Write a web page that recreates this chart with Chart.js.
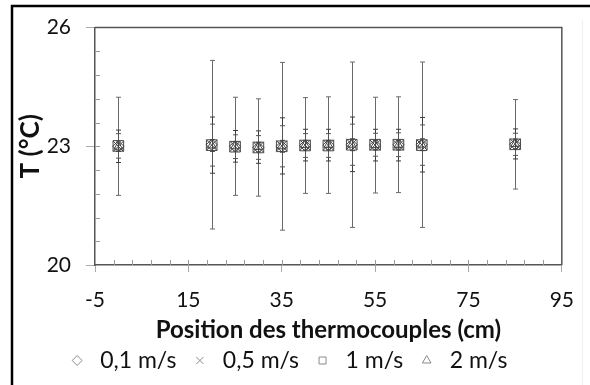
<!DOCTYPE html>
<html>
<head>
<meta charset="utf-8">
<script src="https://cdn.jsdelivr.net/npm/chart.js@4.4.1/dist/chart.umd.min.js"></script>
<style>
  html, body { margin: 0; padding: 0; background: #fff; }
</style>
</head>
<body>
<canvas id="chart" width="590" height="385"></canvas>
<script>
// thermocouple positions (cm)
const positions = [0, 20, 25, 30, 35, 40, 45, 50, 55, 60, 65, 85];
const seriesNames = ['0,1 m/s', '0,5 m/s', '1 m/s', '2 m/s'];

// mean temperatures (°C)
const temp01 = [23.00, 23.04, 23.00, 22.97, 23.00, 23.02, 23.03, 23.04, 23.03, 23.04, 23.04, 23.05];
const temp05 = [23.00, 23.03, 23.00, 22.98, 23.01, 23.03, 23.03, 23.05, 23.03, 23.03, 23.04, 23.06];
const temp1  = [23.01, 23.03, 22.99, 22.97, 23.00, 23.02, 23.02, 23.04, 23.04, 23.04, 23.03, 23.05];
const temp2  = [22.99, 23.02, 23.00, 22.98, 23.00, 23.03, 23.03, 23.04, 23.03, 23.03, 23.04, 23.06];

// error bars (± °C)
const err01 = [1.24, 2.13, 1.24, 1.23, 2.12, 1.21, 1.22, 2.09, 1.21, 1.21, 2.09, 1.13];
const err05 = [0.41, 0.71, 0.40, 0.41, 0.71, 0.40, 0.40, 0.69, 0.40, 0.40, 0.69, 0.38];
const err1  = [0.31, 0.53, 0.30, 0.30, 0.52, 0.30, 0.30, 0.52, 0.29, 0.30, 0.51, 0.28];
const err2  = [0.12, 0.15, 0.12, 0.12, 0.15, 0.12, 0.12, 0.15, 0.12, 0.12, 0.15, 0.12];

const xMin = -5, xMax = 95, xStep = 20, xMinor = 4;
const yMin = 20, yMax = 26, yStep = 3, yMinor = 0.6;

const temps = [temp01, temp05, temp1, temp2];
const errs = [err01, err05, err1, err2];
const styles = ['rectRot', 'crossRot', 'rect', 'triangle'];
const radii = [5.5, 7.5, 7.5, 5];
const barColors = ['#6a6a6a', '#3a3a3a', '#555555', '#444444'];

const datasets = seriesNames.map((name, i) => ({
    label: name,
    data: positions.map((x, j) => ({ x: x, y: temps[i][j] })),
    errors: errs[i],
    pointStyle: styles[i],
    pointRadius: radii[i],
    borderColor: '#454545',
    backgroundColor: 'rgba(0,0,0,0)',
    pointBorderWidth: 1,
    showLine: false
}));

const errorBars = {
    id: 'errorBars',
    beforeDatasetsDraw(chart) {
        const ctx = chart.ctx;
        const xs = chart.scales.x, ys = chart.scales.y;
        ctx.save();
        ctx.lineWidth = 1;
        chart.data.datasets.forEach((ds, i) => {
            ctx.strokeStyle = barColors[i];
            ds.data.forEach((p, j) => {
                const px = Math.round(xs.getPixelForValue(p.x)) + 0.5;
                const top = ys.getPixelForValue(p.y + ds.errors[j]);
                const bot = ys.getPixelForValue(p.y - ds.errors[j]);
                ctx.beginPath();
                ctx.moveTo(px, top); ctx.lineTo(px, bot);
                ctx.moveTo(px - 2.5, top); ctx.lineTo(px + 2.5, top);
                ctx.moveTo(px - 2.5, bot); ctx.lineTo(px + 2.5, bot);
                ctx.stroke();
            });
        });
        ctx.restore();
    }
};

const frame = {
    id: 'frame',
    beforeDraw(chart) {
        const ctx = chart.ctx;
        ctx.save();
        ctx.fillStyle = '#fff';
        ctx.fillRect(0, 0, chart.width, chart.height);
        ctx.strokeStyle = '#000';
        ctx.lineWidth = 2.5;
        ctx.beginPath();
        ctx.moveTo(12, 385); ctx.lineTo(12, 6); ctx.lineTo(590, 6);
        ctx.stroke();
        ctx.strokeStyle = '#f0f0f0';
        ctx.lineWidth = 1;
        ctx.beginPath();
        ctx.moveTo(582.5, 20); ctx.lineTo(582.5, 385);
        ctx.stroke();
        ctx.restore();
    },
    afterDraw(chart) {
        const ctx = chart.ctx;
        const a = chart.chartArea;
        const xs = chart.scales.x, ys = chart.scales.y;
        ctx.save();
        ctx.strokeStyle = '#9a9a9a';
        ctx.lineWidth = 1;
        ctx.beginPath();
        for (let v = xMin + xMinor; v < xMax; v += xMinor) {
            const px = Math.round(xs.getPixelForValue(v)) + 0.5;
            ctx.moveTo(px, a.bottom); ctx.lineTo(px, a.bottom - 5);
        }
        for (let v = yMin + yMinor; v < yMax - 0.01; v += yMinor) {
            const py = Math.round(ys.getPixelForValue(v)) + 0.5;
            ctx.moveTo(a.left, py); ctx.lineTo(a.left + 5, py);
        }
        ctx.stroke();
        ctx.strokeStyle = '#555';
        ctx.lineWidth = 1.5;
        ctx.beginPath();
        ctx.moveTo(a.left, a.top); ctx.lineTo(a.right, a.top); ctx.lineTo(a.right, a.bottom);
        ctx.stroke();
        ctx.restore();
    }
};

const tickFont = { family: 'Lato', size: 21 };

new Chart(document.getElementById('chart').getContext('2d'), {
    type: 'scatter',
    data: { datasets: datasets },
    plugins: [frame, errorBars],
    options: {
        responsive: false,
        animation: false,
        layout: { padding: { top: 26, right: 17, left: 0, bottom: 3 } },
        plugins: {
            tooltip: { enabled: false },
            legend: {
                position: 'bottom',
                labels: {
                    usePointStyle: true,
                    boxHeight: 7,
                    padding: 12,
                    color: '#111',
                    font: { family: 'Lato', size: 23 },
                    generateLabels(chart) {
                        return chart.data.datasets.map((ds, i) => ({
                            text: ds.label,
                            pointStyle: ds.pointStyle,
                            strokeStyle: '#8a8a8a',
                            fillStyle: 'rgba(0,0,0,0)',
                            lineWidth: 1,
                            fontColor: '#111',
                            datasetIndex: i
                        }));
                    }
                }
            }
        },
        scales: {
            x: {
                type: 'linear',
                min: xMin,
                max: xMax,
                ticks: { stepSize: xStep, color: '#111', font: tickFont, padding: 16, maxRotation: 0 },
                grid: { drawOnChartArea: false, tickLength: 7, tickColor: '#aaa' },
                border: { color: '#555', width: 1.5 },
                title: { display: true, text: 'Position des thermocouples (cm)', color: '#111',
                         font: { family: 'Lato', size: 24, weight: 'bold' }, padding: { top: 0, bottom: -8 } },
                afterFit(scale) { scale.height = 72; }
            },
            y: {
                min: yMin,
                max: yMax,
                ticks: { stepSize: yStep, color: '#111', font: tickFont, padding: 15 },
                grid: { drawOnChartArea: false, tickLength: 9, tickColor: '#aaa' },
                border: { color: '#555', width: 1.5 },
                title: { display: true, text: 'T (°C)', color: '#111',
                         font: { family: 'Lato', size: 26, weight: 'bold' }, padding: { top: 15, bottom: 0 } },
                afterFit(scale) { scale.width = 95; }
            }
        }
    }
});
</script>
</body>
</html>
